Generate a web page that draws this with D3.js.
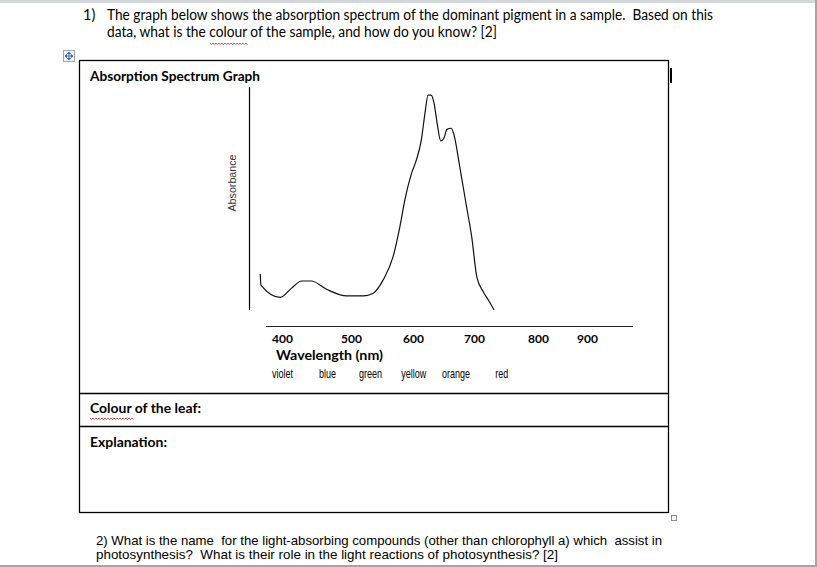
<!DOCTYPE html>
<html>
<head>
<meta charset="utf-8">
<script src="https://cdn.jsdelivr.net/npm/d3@7"></script>
<style>
  body { margin: 0; background: #fff; }
  svg { display: block; }
  text { white-space: pre; }
  .cal { font-family: Lato, "Open Sans", sans-serif; fill: #000; }
  .ari { font-family: "Liberation Sans", Arial, sans-serif; fill: #000; }
</style>
</head>
<body>
<svg id="page" width="817" height="567"></svg>
<script>
// Curve (wavelength in nm, absorbance in arbitrary units)
const wavelength = [383, 384, 412, 428, 443, 457, 479, 509, 536, 552, 568, 584, 595, 603, 614, 622, 630, 636, 641, 646, 651, 656, 662, 667, 672, 679, 683, 693, 704, 712, 720, 730, 738, 747]
const absorbance = [0.161, 0.112, 0.057, 0.097, 0.130, 0.130, 0.093, 0.063, 0.063, 0.075, 0.135, 0.239, 0.374, 0.493, 0.613, 0.673, 0.762, 0.882, 0.964, 0.964, 0.927, 0.837, 0.758, 0.770, 0.810, 0.815, 0.792, 0.643, 0.463, 0.329, 0.149, 0.082, 0.045, 0.0]

const tickValues = [400, 500, 600, 700, 800, 900]
const colourNames = ["violet", "blue", "green", "yellow", "orange", "red"]
const colourNm = [400, 468, 529, 597, 664, 749]

const question1 = [
  "The graph below shows the absorption spectrum of the dominant pigment in a sample.  Based on this",
  "data, what is the colour of the sample, and how do you know? [2]"
]
const question2 = [
  "2) What is the name  for the light-absorbing compounds (other than chlorophyll a) which  assist in",
  "photosynthesis?  What is their role in the light reactions of photosynthesis? [2]"
]

const svg = d3.select("#page")

// The typed tick labels are not evenly spaced, so the scale is polylinear
const x = d3.scaleLinear()
  .domain(tickValues)
  .range([272, 341, 403, 464, 528, 577])
const y = d3.scaleLinear().domain([0, 1]).range([310, 87])

// window chrome
svg.append("rect").attr("x", 0).attr("y", 0).attr("width", 817).attr("height", 3).attr("fill", "#d3d6da")
svg.append("rect").attr("x", 815).attr("y", 0).attr("width", 2).attr("height", 567).attr("fill", "#a2a6aa")
svg.append("rect").attr("x", 0).attr("y", 565).attr("width", 817).attr("height", 2).attr("fill", "#a2a6aa")

const squiggle = (x0, x1, yy) => {
  let d = `M${x0},${yy}`
  for (let xx = x0, i = 0; xx < x1; xx += 1.5, i++) {
    d += `L${xx + 1.5},${yy + (i % 2 ? 0 : 1.5)}`
  }
  svg.append("path").attr("d", d).attr("fill", "none").attr("stroke", "#e02020").attr("stroke-width", 0.8)
}

// question 1
svg.append("text").attr("class", "cal").attr("x", 83).attr("y", 20).style("font-size", "14.5px").text("1)")
svg.selectAll(".q1")
  .data(question1)
  .join("text")
  .attr("class", "cal q1")
  .attr("x", 107)
  .attr("y", (d, i) => 20 + i * 17.3)
  .attr("textLength", (d, i) => i ? 390 : 606)
  .attr("lengthAdjust", "spacingAndGlyphs")
  .style("font-size", "14.5px")
  .text(d => d)
squiggle(210, 247, 43)

// table move handle
const handle = svg.append("g").attr("transform", "translate(63.5,50.5)")
handle.append("rect").attr("width", 11).attr("height", 11).attr("fill", "#f3f5f9").attr("stroke", "#98a6b8")
handle.append("path")
  .attr("d", "M5.5,2V9M2,5.5H9M5.5,1.5L4,3.2H7ZM5.5,9.5L4,7.8H7ZM1.5,5.5L3.2,4V7ZM9.5,5.5L7.8,4V7Z")
  .attr("fill", "#2a5db0").attr("stroke", "#2a5db0").attr("stroke-width", 0.8)

// table
svg.append("rect").attr("x", 79.5).attr("y", 60.5).attr("width", 589).attr("height", 452)
  .attr("fill", "none").attr("stroke", "#000").attr("stroke-width", 1.3)
;[393.5, 426.5].forEach(yy => {
  svg.append("line").attr("x1", 79.5).attr("x2", 668.5).attr("y1", yy).attr("y2", yy)
    .attr("stroke", "#000").attr("stroke-width", 1.3)
})
svg.append("rect").attr("x", 670).attr("y", 68).attr("width", 2).attr("height", 15).attr("fill", "#000")
svg.append("rect").attr("x", 671.5).attr("y", 515.5).attr("width", 5).attr("height", 5)
  .attr("fill", "#fff").attr("stroke", "#8a8a8a")

svg.append("text").attr("class", "cal").attr("x", 90).attr("y", 81)
  .attr("textLength", 170).attr("lengthAdjust", "spacingAndGlyphs")
  .style("font-size", "13.5px").style("font-weight", "bold")
  .text("Absorption Spectrum Graph")

// graph
svg.append("line").attr("x1", 249.5).attr("x2", 249.5).attr("y1", y(1)).attr("y2", y(0))
  .attr("stroke", "#000").attr("stroke-width", 1.2)
svg.append("text").attr("class", "ari")
  .attr("transform", "translate(236,183) rotate(-90)")
  .attr("text-anchor", "middle")
  .attr("textLength", 57).attr("lengthAdjust", "spacingAndGlyphs")
  .style("font-size", "11px").style("fill", "#333")
  .text("Absorbance")

const line = d3.line()
  .x((d, i) => x(wavelength[i]))
  .y(d => y(d))
  .curve(d3.curveMonotoneX)
svg.append("path")
  .datum(absorbance)
  .attr("d", line)
  .attr("fill", "none")
  .attr("stroke", "#111")
  .attr("stroke-width", 1.2)

svg.append("line").attr("x1", 266).attr("x2", 633).attr("y1", 326.5).attr("y2", 326.5)
  .attr("stroke", "#222").attr("stroke-width", 1)

svg.selectAll(".tick")
  .data(tickValues)
  .join("text")
  .attr("class", "cal tick")
  .attr("x", d => x(d))
  .attr("y", 343)
  .style("font-size", "12px")
  .style("font-weight", "bold")
  .text(d => d)

svg.append("text").attr("class", "cal").attr("x", 276).attr("y", 360)
  .attr("textLength", 107).attr("lengthAdjust", "spacingAndGlyphs")
  .style("font-size", "13.5px").style("font-weight", "bold")
  .text("Wavelength (nm)")

svg.selectAll(".colour")
  .data(colourNames)
  .join("text")
  .attr("class", "ari colour")
  .attr("transform", (d, i) => `translate(${x(colourNm[i])},378) scale(0.75,1)`)
  .style("font-size", "12px")
  .text(d => d)

// answer rows
svg.append("text").attr("class", "cal").attr("x", 90).attr("y", 413)
  .attr("textLength", 111).attr("lengthAdjust", "spacingAndGlyphs")
  .style("font-size", "13.5px").style("font-weight", "bold")
  .text("Colour of the leaf:")
squiggle(90, 133, 418)
svg.append("text").attr("class", "cal").attr("x", 90).attr("y", 447)
  .attr("textLength", 77).attr("lengthAdjust", "spacingAndGlyphs")
  .style("font-size", "13.5px").style("font-weight", "bold")
  .text("Explanation:")

// question 2
svg.selectAll(".q2")
  .data(question2)
  .join("text")
  .attr("class", "ari q2")
  .attr("x", 96)
  .attr("y", (d, i) => 545 + i * 14)
  .attr("textLength", (d, i) => i ? 462 : 566)
  .attr("lengthAdjust", "spacingAndGlyphs")
  .style("font-size", "13px")
  .text(d => d)
</script>
</body>
</html>
